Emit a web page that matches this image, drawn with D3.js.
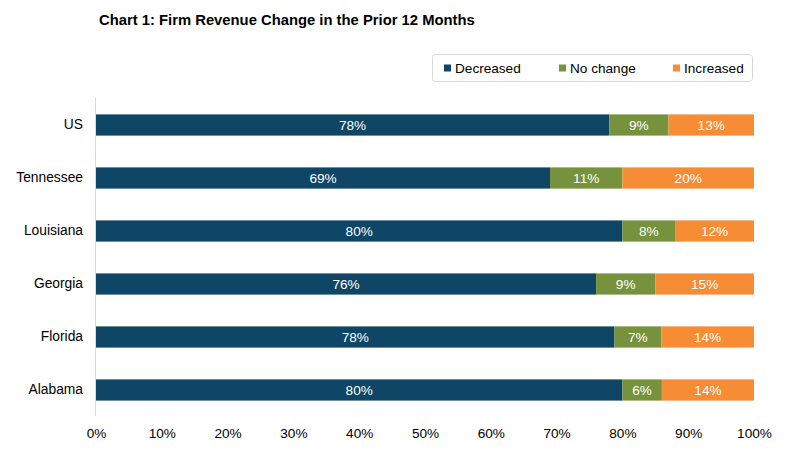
<!DOCTYPE html>
<html>
<head>
<meta charset="utf-8">
<script src="https://cdn.jsdelivr.net/npm/d3@7"></script>
<style>
  body { margin: 0; background: #fff; }
  text { font-family: Arial, "Liberation Sans", sans-serif; }
</style>
</head>
<body>
<svg id="chart"></svg>
<script>
const width = 787, height = 456

// Data (percent)
const states = ['US', 'Tennessee', 'Louisiana', 'Georgia', 'Florida', 'Alabama']
const decreased = [78, 69, 80, 76, 78.8, 80]
const noChange = [9, 11, 8, 9, 7.1, 6]
const increased = [13, 20, 12, 15, 14.1, 14]
const seriesNames = ['Decreased', 'No change', 'Increased']
const seriesColors = ['#0f4565', '#77923c', '#f68c33']
const xTicks = [0, 10, 20, 30, 40, 50, 60, 70, 80, 90, 100]

const rows = states.map((s, i) => ({
    state: s,
    'Decreased': decreased[i],
    'No change': noChange[i],
    'Increased': increased[i]
}))

const stacked = d3.stack().keys(seriesNames)(rows)

const x = d3.scaleLinear().domain([0, 100]).range([96, 754])
const y = d3.scaleBand().domain(states).range([98.5, 416.5])
    .paddingInner(0.6).paddingOuter(0.3)
const color = d3.scaleOrdinal().domain(seriesNames).range(seriesColors)

const svg = d3.select('#chart')
    .attr('width', width)
    .attr('height', height)

// Title
svg.append('text')
    .attr('x', 99)
    .attr('y', 25)
    .attr('font-size', 14.8)
    .attr('font-weight', 'bold')
    .attr('fill', '#000')
    .text('Chart 1: Firm Revenue Change in the Prior 12 Months')

// Legend
const legend = svg.append('g')
legend.append('rect')
    .attr('x', 432.5).attr('y', 54.5)
    .attr('width', 320).attr('height', 27)
    .attr('rx', 3)
    .attr('fill', '#fff')
    .attr('stroke', '#d9d9d9')
const legendX = [444, 559, 673]
legend.selectAll('g.item')
    .data(seriesNames)
    .join('g').attr('class', 'item')
    .attr('transform', (d, i) => `translate(${legendX[i]},68)`)
    .call(g => g.append('rect')
        .attr('x', 0).attr('y', -3.5)
        .attr('width', 7).attr('height', 7)
        .attr('fill', d => color(d)))
    .call(g => g.append('text')
        .attr('x', 11).attr('y', 5)
        .attr('font-size', 13.6)
        .attr('fill', '#000')
        .text(d => d))

// Bars
const layers = svg.append('g').selectAll('g')
    .data(stacked)
    .join('g')
    .attr('fill', d => color(d.key))

layers.selectAll('rect')
    .data(d => d)
    .join('rect')
    .attr('x', d => x(d[0]))
    .attr('y', d => y(d.data.state))
    .attr('width', d => x(d[1]) - x(d[0]))
    .attr('height', y.bandwidth())

// Data labels
layers.selectAll('text')
    .data(d => d.map(v => ({ v, key: d.key })))
    .join('text')
    .attr('x', d => (x(d.v[0]) + x(d.v[1])) / 2)
    .attr('y', d => y(d.v.data.state) + y.bandwidth() / 2 + 5)
    .attr('text-anchor', 'middle')
    .attr('font-size', 13.6)
    .attr('fill', '#fff')
    .text(d => Math.floor(d.v.data[d.key]) + '%')

// Y axis
const yAxis = svg.append('g')
    .attr('transform', 'translate(96,0)')
    .call(d3.axisLeft(y).tickSize(0).tickPadding(13))
yAxis.select('.domain').remove()
yAxis.append('line')
    .attr('x1', -0.5).attr('x2', -0.5)
    .attr('y1', 98).attr('y2', 416)
    .attr('stroke', '#d9d9d9')
yAxis.selectAll('.tick text')
    .attr('font-size', 13.8)
    .attr('font-family', 'Arial, "Liberation Sans", sans-serif')
    .attr('fill', '#000')

// X axis
const xAxis = svg.append('g')
    .attr('transform', 'translate(0,416)')
    .call(d3.axisBottom(x).tickValues(xTicks).tickSize(0).tickPadding(12)
        .tickFormat(d => d + '%'))
xAxis.select('.domain').remove()
xAxis.selectAll('.tick text')
    .attr('font-size', 13.6)
    .attr('font-family', 'Arial, "Liberation Sans", sans-serif')
    .attr('fill', '#000')
</script>
</body>
</html>
